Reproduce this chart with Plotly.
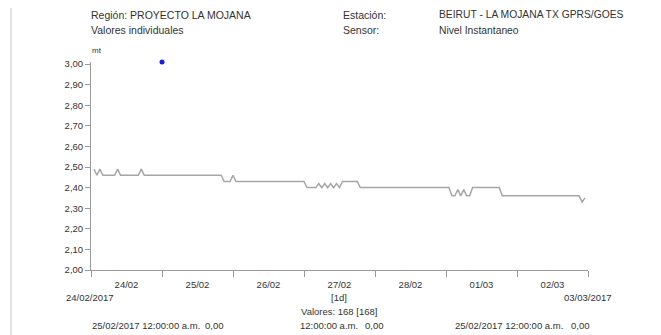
import pandas as pd
import plotly.graph_objects as go

# ---- data (hourly values, 24/02/2017 01:00 onward) ----
day1 = [2.49, 2.46, 2.49, 2.46, 2.46, 2.46, 2.46, 2.46, 2.49, 2.46, 2.46, 2.46,
        2.46, 2.46, 2.46, 2.46, 2.49, 2.46, 2.46, 2.46, 2.46, 2.46, 2.46, 2.46]
day2 = [2.46, 2.46, 2.46, 2.46, 2.46, 2.46, 2.46, 2.46, 2.46, 2.46, 2.46, 2.46,
        2.46, 2.46, 2.46, 2.46, 2.46, 2.46, 2.46, 2.46, 2.43, 2.43, 2.43, 2.46]
day3 = [2.43, 2.43, 2.43, 2.43, 2.43, 2.43, 2.43, 2.43, 2.43, 2.43, 2.43, 2.43,
        2.43, 2.43, 2.43, 2.43, 2.43, 2.43, 2.43, 2.43, 2.43, 2.43, 2.43, 2.43]
day4 = [2.40, 2.40, 2.40, 2.40, 2.42, 2.40, 2.42, 2.40, 2.42, 2.40, 2.42, 2.40,
        2.43, 2.43, 2.43, 2.43, 2.43, 2.43, 2.40, 2.40, 2.40, 2.40, 2.40, 2.40]
day5 = [2.40, 2.40, 2.40, 2.40, 2.40, 2.40, 2.40, 2.40, 2.40, 2.40, 2.40, 2.40,
        2.40, 2.40, 2.40, 2.40, 2.40, 2.40, 2.40, 2.40, 2.40, 2.40, 2.40, 2.40]
day6 = [2.40, 2.36, 2.36, 2.39, 2.36, 2.39, 2.36, 2.36, 2.40, 2.40, 2.40, 2.40,
        2.40, 2.40, 2.40, 2.40, 2.40, 2.40, 2.36, 2.36, 2.36, 2.36, 2.36, 2.36]
day7 = [2.36, 2.36, 2.36, 2.36, 2.36, 2.36, 2.36, 2.36, 2.36, 2.36, 2.36, 2.36,
        2.36, 2.36, 2.36, 2.36, 2.36, 2.36, 2.36, 2.36, 2.36, 2.33, 2.35]
levels = day1 + day2 + day3 + day4 + day5 + day6 + day7
start_time = "2017-02-24 01:00"

outlier_time = ["2017-02-25 00:00"]
outlier_value = [3.01]

y_ticks = [2.0, 2.1, 2.2, 2.3, 2.4, 2.5, 2.6, 2.7, 2.8, 2.9, 3.0]
y_range = [2.0, 3.01]

times = pd.date_range(start_time, periods=len(levels), freq="h")

# ---- layout geometry (page body has an 8px margin) ----
OFF = 8
W, H = 661 - OFF, 335 - OFF
L, R, T, B = 91 - OFF, 588 - OFF, 62 - OFF, 270 - OFF

fig = go.Figure()
fig.add_trace(go.Scatter(x=times, y=levels, mode="lines",
                         line=dict(color="#a6a6a6", width=1.5),
                         hoverinfo="skip", showlegend=False))
fig.add_trace(go.Scatter(x=outlier_time, y=outlier_value, mode="markers",
                         marker=dict(color="#1a1ae6", size=5),
                         cliponaxis=False, showlegend=False))

TXT = "#333333"
FONT = "Liberation Sans, Arial, sans-serif"


def px_x(p):
    return (p - OFF - L) / (R - L)


def px_y(p):
    return (B - (p - OFF)) / (B - T)


anns = []


def add_text(text, x, y, size, xanchor="left"):
    anns.append(dict(text=text, x=px_x(x), y=px_y(y), xref="paper", yref="paper",
                     xanchor=xanchor, yanchor="middle", showarrow=False,
                     font=dict(size=size, color=TXT, family=FONT)))


add_text("Región: PROYECTO LA MOJANA", 89, 15, 10.5)
add_text("Valores individuales", 89, 30, 10.5)
add_text("Estación:", 341, 15, 10.5)
add_text("Sensor:", 341, 30, 10.5)
add_text("BEIRUT - LA MOJANA TX GPRS/GOES", 437, 15, 10.3)
add_text("Nivel Instantaneo", 437, 30, 10.3)
add_text("mt", 90, 51, 8)
add_text("24/02/2017", 90, 297, 9.5, "center")
add_text("03/03/2017", 588, 297, 9.5, "center")
add_text("[1d]", 339, 297, 9.5, "center")
add_text("Valores: 168 [168]", 339, 311, 9.5, "center")
add_text("25/02/2017 12:00:00 a.m.", 90, 325, 9.5)
add_text("0,00", 203, 325, 9.5)
add_text("12:00:00 a.m.", 298, 325, 9.5)
add_text("0,00", 363, 325, 9.5)
add_text("25/02/2017 12:00:00 a.m.", 453, 325, 9.5)
add_text("0,00", 569, 325, 9.5)

fig.update_layout(
    width=W, height=H,
    margin=dict(l=L, r=W - R, t=T, b=H - B, pad=0),
    paper_bgcolor="white", plot_bgcolor="white",
    separators=",.",
    font=dict(family=FONT, color=TXT, size=10),
    annotations=anns,
    shapes=[dict(type="line", xref="paper", yref="paper",
                 x0=px_x(11), x1=px_x(11), y0=px_y(OFF), y1=px_y(335),
                 line=dict(color="#e2e2e2", width=2))],
    xaxis=dict(type="date", range=["2017-02-24", "2017-03-03"],
               tick0="2017-02-24", dtick=86400000, ticklabelmode="period",
               tickformat="%d/%m", ticks="outside", ticklen=6, tickcolor="#9a9a9a",
               showline=True, linecolor="#9a9a9a", linewidth=1,
               showgrid=False, zeroline=False,
               tickfont=dict(size=9.5, color=TXT)),
    yaxis=dict(range=y_range, tickvals=y_ticks, tickformat=".2f",
               ticks="outside", ticklen=5, tickcolor="#9a9a9a",
               showline=True, linecolor="#9a9a9a", linewidth=1,
               showgrid=False, zeroline=False,
               tickfont=dict(size=9.5, color=TXT)),
)

fig.write_html("out.html")
